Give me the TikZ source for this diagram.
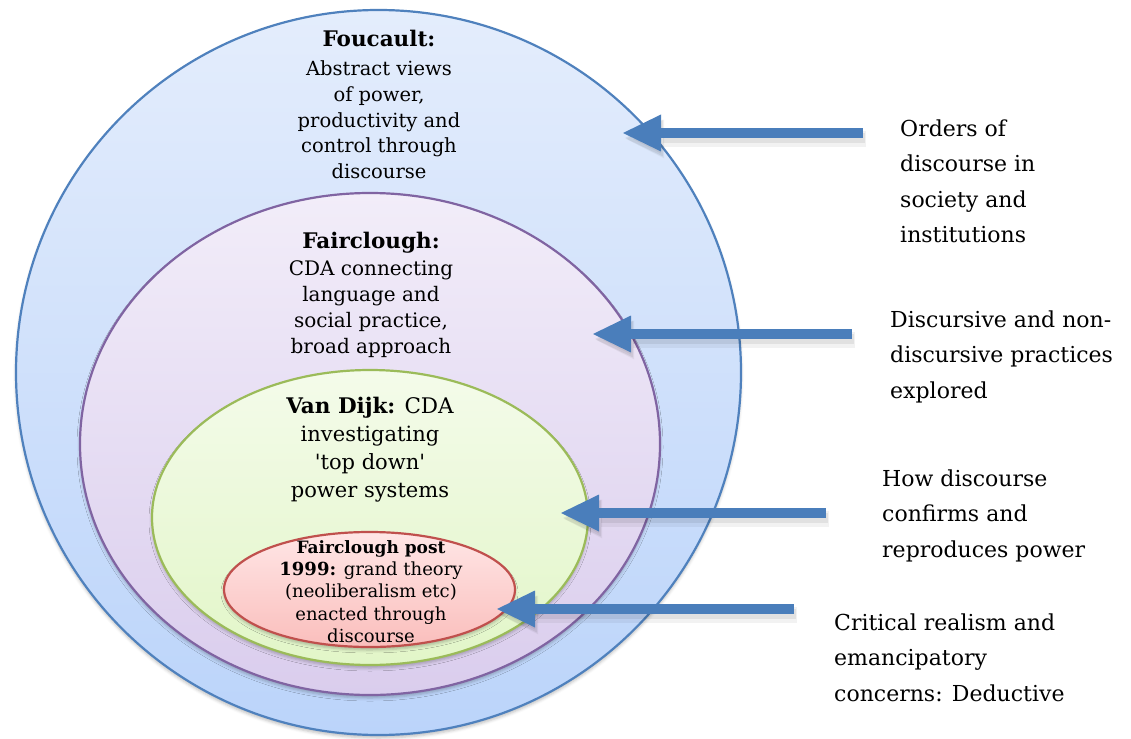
\documentclass[tikz,border=0pt]{standalone}
\usepackage{fontspec}
\setmainfont{DejaVu Serif}
\usetikzlibrary{arrows.meta,shapes.geometric,shadows.blur}
\definecolor{blueS}{RGB}{79,129,189}
\definecolor{blueT}{RGB}{228,237,252}
\definecolor{blueB}{RGB}{187,212,250}
\definecolor{purS}{RGB}{128,100,162}
\definecolor{purT}{RGB}{242,237,249}
\definecolor{purB}{RGB}{218,205,237}
\definecolor{grnS}{RGB}{155,187,89}
\definecolor{grnT}{RGB}{244,251,234}
\definecolor{grnB}{RGB}{226,246,200}
\definecolor{redS}{RGB}{192,80,77}
\definecolor{redT}{RGB}{255,230,230}
\definecolor{redB}{RGB}{250,190,188}
\definecolor{arr}{RGB}{74,126,187}
\tikzset{
  ring/.style={ellipse, inner sep=0pt, outer sep=0pt, line width=2.2pt,
    blur shadow={shadow xshift=0pt, shadow yshift=-3pt, shadow blur radius=3pt, shadow opacity=25}},
  ptr/.style={line width=10pt, draw=arr, -{Triangle[length=38pt,width=37pt,line width=0pt]}},
  ptrshadowA/.style={line width=10pt, draw=black, opacity=0.07, -{Triangle[length=38pt,width=37pt,line width=0pt]}},
  ptrshadowB/.style={line width=16pt, draw=black, opacity=0.05, -{Triangle[length=38pt,width=37pt,line width=6pt]}},
  hdr/.style={anchor=base, inner sep=0pt},
  body/.style={align=center, anchor=north, inner sep=0pt},
  lbl/.style={align=left, anchor=north west, inner sep=0pt, font=\fontsize{22}{35.5}\selectfont},
}
\begin{document}
\begin{tikzpicture}[x=1pt,y=-1pt]
\useasboundingbox (0,0) rectangle (1131,738);
% nested ellipses
\node[ring, draw=blueS, top color=blueT, bottom color=blueB, minimum width=725pt, minimum height=725pt] (fou) at (378.5,372.5) {};
\node[ring, draw=purS, top color=purT, bottom color=purB, minimum width=580pt, minimum height=502pt] (fai) at (370,444) {};
\node[ring, draw=grnS, top color=grnT, bottom color=grnB, minimum width=436pt, minimum height=295pt] (vdk) at (370,517.5) {};
\node[ring, draw=redS, top color=redT, bottom color=redB, minimum width=291pt, minimum height=115pt] (fpost) at (369.5,589.5) {};
% texts inside
\node[hdr, font=\bfseries\fontsize{21.5}{26}\selectfont] (fouH) at (379,47) {Foucault:};
\node[body, font=\fontsize{19.5}{25.75}\selectfont] (fouB) at (379,60.5) {Abstract views\\of power,\\productivity and\\control through\\discourse};
\node[hdr, font=\bfseries\fontsize{21.5}{26}\selectfont] (faiH) at (371,248) {Fairclough:};
\node[body, font=\fontsize{20}{26}\selectfont] (faiB) at (371,260) {CDA connecting\\language and\\social practice,\\broad approach};
\node[hdr, font=\fontsize{21.5}{28}\selectfont] (vdkH) at (370,413) {\textbf{Van Dijk:} CDA};
\node[body, font=\fontsize{21}{28}\selectfont] (vdkB) at (370,426) {investigating\\\textquotesingle top down\textquotesingle\\power systems};
\node[hdr, font=\bfseries\fontsize{17}{22.5}\selectfont] (fpH) at (371,553) {Fairclough post};
\node[body, font=\fontsize{18}{22.5}\selectfont] (fpB) at (371,561.3) {\textbf{1999:} grand theory\\(neoliberalism etc)\\enacted through\\discourse};
% labels on the right
\node[lbl] (l1) at (900,119.3) {Orders of\\discourse in\\society and\\institutions};
\node[lbl] (l2) at (890,310.3) {Discursive and non-\\discursive practices\\explored};
\node[lbl] (l3) at (882,469.3) {How discourse\\confirms and\\reproduces power};
\node[lbl] (l4) at (834,613.3) {Critical realism and\\emancipatory\\concerns: Deductive};
% arrows
\coordinate (a1s) at (863,133); \coordinate (a1e) at (623,133);
\coordinate (a2s) at (852,334); \coordinate (a2e) at (593,334);
\coordinate (a3s) at (826,513); \coordinate (a3e) at (561,513);
\coordinate (a4s) at (794,609); \coordinate (a4e) at (497,609);
\foreach \s/\e in {a1s/a1e,a2s/a2e,a3s/a3e,a4s/a4e}{
  \draw[ptrshadowB] ([shift={(3,6)}]\s) -- ([shift={(3,6)}]\e);
  \draw[ptrshadowA] ([shift={(2,5)}]\s) -- ([shift={(2,5)}]\e);
  \draw[ptr] (\s) -- (\e);
}
\end{tikzpicture}
\end{document}
